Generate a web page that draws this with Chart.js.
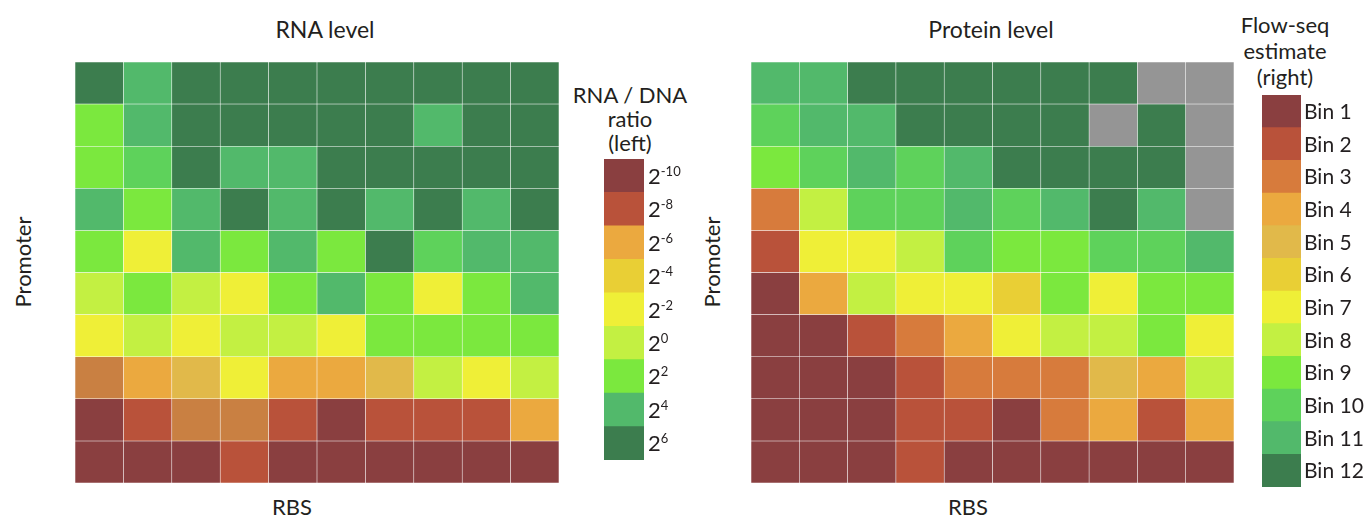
<!DOCTYPE html>
<html>
<head>
<meta charset="utf-8">
<script src="https://cdn.jsdelivr.net/npm/chart.js@4.4.1/dist/chart.umd.min.js"></script>
<style>
    body { margin: 0; background: #fff; }
    #page { position: relative; width: 1367px; height: 517px; overflow: hidden; font-family: Lato, sans-serif; color: #231f20; }
    .box { position: absolute; }
    .txt { position: absolute; font-size: 22px; line-height: 1; white-space: nowrap; transform: translate(-50%, -50%); }
    .rot { transform: translate(-50%, -50%) rotate(-90deg); }
</style>
</head>
<body>
<div id="page">
    <div class="txt" style="left:325px; top:29px; font-size:23px;">RNA level</div>
    <div class="txt" style="left:991px; top:29px; font-size:23px;">Protein level</div>
    <div class="txt" style="left:292px; top:507px;">RBS</div>
    <div class="txt" style="left:968px; top:507px;">RBS</div>
    <div class="txt rot" style="left:23px; top:262px;">Promoter</div>
    <div class="txt rot" style="left:712px; top:262px;">Promoter</div>

    <div class="txt" style="left:630px; top:95px;">RNA / DNA</div>
    <div class="txt" style="left:630px; top:119px;">ratio</div>
    <div class="txt" style="left:630px; top:143px;">(left)</div>

    <div class="txt" style="left:1285px; top:25px;">Flow-seq</div>
    <div class="txt" style="left:1285px; top:51px;">estimate</div>
    <div class="txt" style="left:1285px; top:77px;">(right)</div>

    <div class="box" style="left:75px; top:62px; width:484px; height:421px;"><canvas id="rnaChart"></canvas></div>
    <div class="box" style="left:604px; top:159px; width:96px; height:301px;"><canvas id="rnaScale"></canvas></div>
    <div class="box" style="left:751px; top:62px; width:483px; height:421px;"><canvas id="proteinChart"></canvas></div>
    <div class="box" style="left:1262px; top:95px; width:105px; height:392px;"><canvas id="binScale"></canvas></div>
</div>

<script>
const rbsLabels = ['1', '2', '3', '4', '5', '6', '7', '8', '9', '10'];

// log2(RNA/DNA), rows top to bottom (promoters), columns left to right (RBS)
const rnaLog2Ratio = [
    [6, 4, 6, 6, 6, 6, 6, 6, 6, 6],
    [2, 4, 6, 6, 6, 6, 6, 4, 6, 6],
    [2, 3, 6, 4, 4, 6, 6, 6, 6, 6],
    [4, 2, 4, 6, 4, 6, 4, 6, 4, 6],
    [2, -2, 4, 2, 4, 2, 6, 3, 4, 4],
    [0, 2, 0, -2, 2, 4, 2, -2, 2, 4],
    [-2, 0, -2, 0, 0, -2, 2, 2, 2, 2],
    [-7, -6, -5, -2, -6, -6, -5, 0, -2, 0],
    [-10, -8, -7, -7, -8, -10, -8, -8, -8, -6],
    [-10, -10, -10, -8, -10, -10, -10, -10, -10, -10],
];

// Flow-seq bin (1..12), null = no estimate
const flowSeqBin = [
    [11, 11, 12, 12, 12, 12, 12, 12, null, null],
    [10, 11, 11, 12, 12, 12, 12, null, 12, null],
    [9, 10, 11, 10, 11, 12, 12, 12, 12, null],
    [3, 8, 10, 10, 11, 10, 11, 12, 11, null],
    [2, 7, 7, 8, 10, 9, 9, 10, 10, 11],
    [1, 4, 8, 7, 7, 6, 9, 7, 9, 9],
    [1, 1, 2, 3, 4, 7, 8, 8, 9, 7],
    [1, 1, 1, 2, 3, 3, 3, 5, 4, 8],
    [1, 1, 1, 2, 2, 1, 3, 4, 2, 4],
    [1, 1, 1, 2, 1, 1, 1, 1, 1, 1],
];

const rnaTickExponents = [-10, -8, -6, -4, -2, 0, 2, 4, 6];
const binLabels = ['Bin 1', 'Bin 2', 'Bin 3', 'Bin 4', 'Bin 5', 'Bin 6', 'Bin 7', 'Bin 8', 'Bin 9', 'Bin 10', 'Bin 11', 'Bin 12'];

const binColors = ['#8a3f40', '#b9523a', '#d77b3c', '#eba93f', '#e1b94a', '#e9cf35', '#efef37', '#c3f042', '#7be83e', '#5ed25b', '#52b96b', '#3c7d4e'];
const rnaColors = {
    '-10': '#8a3f40', '-8': '#b9523a', '-7': '#c98042', '-6': '#eba93f', '-5': '#e1b94a', '-4': '#e9cf35',
    '-2': '#efef37', '0': '#c3f042', '2': '#7be83e', '3': '#5ed25b', '4': '#52b96b', '6': '#3c7d4e',
};
const missingColor = '#959595';
const inkColor = '#231f20';

function rnaColor(v) {
    return rnaColors[String(v)] || missingColor;
}

function binColor(v) {
    return v == null ? missingColor : binColors[v - 1];
}

function renderHeatmap(canvasId, grid, colorOf) {
    const rows = grid.length;
    new Chart(document.getElementById(canvasId), {
        type: 'bar',
        data: {
            labels: rbsLabels,
            datasets: grid.map((row, r) => ({
                data: row.map(() => [rows - 1 - r, rows - r]),
                backgroundColor: row.map(colorOf),
                borderColor: 'rgba(255,255,255,0.22)',
                borderWidth: 0.6,
                borderSkipped: false,
                grouped: false,
                barPercentage: 1,
                categoryPercentage: 1,
            })),
        },
        options: {
            responsive: true,
            maintainAspectRatio: false,
            animation: false,
            layout: { padding: 0 },
            plugins: {
                legend: { display: false },
                tooltip: { enabled: false },
            },
            scales: {
                x: { display: false },
                y: { display: false, min: 0, max: rows },
            },
        },
    });
}

// 2^n labels next to the RNA colour bar
const exponentLabels = {
    id: 'exponentLabels',
    afterDraw(chart) {
        const { ctx, chartArea, scales } = chart;
        ctx.save();
        ctx.fillStyle = inkColor;
        ctx.textAlign = 'left';
        ctx.textBaseline = 'alphabetic';
        rnaTickExponents.forEach((e, i) => {
            const y = scales.y.getPixelForValue(i);
            const x = chartArea.right + 4;
            ctx.font = '22px Lato';
            ctx.fillText('2', x, y + 8);
            const w = ctx.measureText('2').width;
            ctx.font = '13px Lato';
            ctx.fillText(String(e), x + w, y);
        });
        ctx.restore();
    },
};

// Bin n labels next to the flow-seq colour bar
const binTickLabels = {
    id: 'binTickLabels',
    afterDraw(chart) {
        const { ctx, chartArea, scales } = chart;
        ctx.save();
        ctx.fillStyle = inkColor;
        ctx.textAlign = 'left';
        ctx.textBaseline = 'alphabetic';
        ctx.font = '21px Lato';
        binLabels.forEach((label, i) => {
            ctx.fillText(label, chartArea.right + 3, scales.y.getPixelForValue(i) + 7.5);
        });
        ctx.restore();
    },
};

function renderScale(canvasId, labels, colors, axisWidth, plugins) {
    new Chart(document.getElementById(canvasId), {
        type: 'bar',
        data: {
            labels: labels,
            datasets: [{
                data: labels.map(() => 1),
                backgroundColor: colors,
                borderWidth: 0,
                barPercentage: 1,
                categoryPercentage: 1,
            }],
        },
        options: {
            indexAxis: 'y',
            responsive: true,
            maintainAspectRatio: false,
            animation: false,
            layout: { padding: 0 },
            plugins: {
                legend: { display: false },
                tooltip: { enabled: false },
            },
            scales: {
                x: { display: false, min: 0, max: 1 },
                y: {
                    position: 'right',
                    grid: { display: false, drawTicks: false },
                    border: { display: false },
                    ticks: { display: false },
                    afterFit(scale) { scale.width = axisWidth; },
                },
            },
        },
        plugins: plugins,
    });
}

renderHeatmap('rnaChart', rnaLog2Ratio, rnaColor);
renderHeatmap('proteinChart', flowSeqBin, binColor);
renderScale('rnaScale', rnaTickExponents.map(String), rnaTickExponents.map(rnaColor), 56, [exponentLabels]);
renderScale('binScale', binLabels, binColors, 66, [binTickLabels]);
</script>
</body>
</html>
